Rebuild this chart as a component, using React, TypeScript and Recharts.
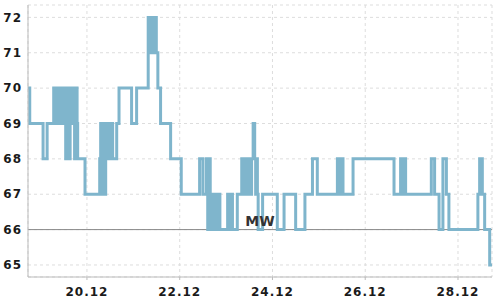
import * as React from "react";
import {
  LineChart,
  Line,
  XAxis,
  YAxis,
  CartesianGrid,
  ReferenceLine,
} from "recharts";

// hours since 18.12 00:00, value holds until the next point
const hours = [
  17.5, 18.4, 25.3, 27.4, 30.8, 31.8, 32.3, 33.4, 33.9, 34.8, 35.3, 36.6, 37.0,
  37.8, 38.0, 39.1, 39.3, 40.1, 40.6, 41.6, 42.2, 42.9, 43.2, 47.0, 54.6, 55.1,
  55.6, 56.1, 56.6, 57.2, 57.7, 58.2, 58.7, 59.2, 59.8, 60.3, 60.8, 61.3, 63.4,
  64.6, 71.1, 73.7, 79.7, 80.2, 80.7, 81.2, 81.7, 82.3, 82.8, 83.9, 84.7, 86.1,
  91.3, 96.8, 106.3, 108.0, 109.8, 110.5, 111.2, 111.8, 112.3, 112.9, 113.3,
  113.8, 114.4, 114.9, 115.4, 115.9, 116.4, 116.8, 120.8, 121.9, 122.4, 123.3,
  125.8, 128.1, 128.6, 129.1, 129.6, 130.1, 130.7, 131.2, 131.7, 132.2, 132.7,
  133.2, 134.0, 134.8, 135.3, 135.8, 136.2, 136.6, 138.9, 146.5, 150.0, 156.0,
  160.8, 164.7, 167.2, 177.6, 178.3, 178.8, 179.6, 180.1, 180.5, 185.7, 206.9,
  210.3, 211.4, 211.9, 212.9, 226.2, 227.9, 230.2, 232.2, 234.0, 235.3, 250.3,
  251.2, 252.6, 253.8, 256.4, 257.6,
];

const values = [
  70, 69, 68, 69, 70, 69, 70, 69, 70, 69, 70, 69, 68,
  69, 70, 68, 70, 69, 70, 68, 70, 69, 68, 67, 68, 69,
  67, 69, 68, 67, 69, 68, 69, 68, 69, 68, 69, 68, 69,
  70, 69, 70, 72, 71, 72, 71, 72, 71, 72, 71, 70, 69,
  68, 67, 68, 67, 68, 66, 68, 66, 67, 66, 67,
  66, 67, 66, 67, 66, 67, 66, 67, 66, 67, 66,
  67, 68, 67, 68, 67, 68, 67, 68, 67, 68, 67,
  68, 69, 68, 67, 68, 67, 66, 67, 66, 67, 66,
  67, 68, 67, 68, 67, 68, 67, 68, 67, 68, 67,
  68, 67, 68, 67, 68, 67, 66, 68, 67, 66, 67,
  68, 67, 66, 65, 65,
];

const xTicks = [48, 96, 144, 192, 240];
const xTickLabels = ["20.12", "22.12", "24.12", "26.12", "28.12"];
const yTicks = [65, 66, 67, 68, 69, 70, 71, 72];
const meanValue = 66;
const meanLabel = "MW";

const data = hours.map((t, i) => ({ t, v: values[i] }));

const tickStyle = {
  fill: "#1a1a1a",
  fontSize: 12,
  fontWeight: 700,
  letterSpacing: 1,
  fontFamily: "DejaVu Sans",
};

export default function App() {
  return (
    <div style={{ position: "absolute", left: 0, top: 0, width: 500, height: 300 }}>
      <LineChart
        width={500}
        height={300}
        data={data}
        margin={{ top: 5, right: 8, left: 0, bottom: 0 }}
      >
        <CartesianGrid stroke="#dddddd" strokeDasharray="3 3" />
        <XAxis
          dataKey="t"
          type="number"
          domain={[17.5, 257.6]}
          ticks={xTicks}
          tickFormatter={(t) => xTickLabels[xTicks.indexOf(t)] ?? ""}
          height={23}
          stroke="#bbbbbb"
          tickSize={3}
          tickMargin={7}
          tick={tickStyle}
        />
        <YAxis
          type="number"
          domain={[64.66, 72.35]}
          ticks={yTicks}
          width={28}
          stroke="#bbbbbb"
          tickLine={false}
          tickSize={3}
          tickMargin={3}
          tick={tickStyle}
        />
        <ReferenceLine
          y={meanValue}
          stroke="#888888"
          strokeWidth={1}
          label={{
            value: meanLabel,
            position: "top",
            offset: 4,
            fill: "#333333",
            fontSize: 14,
            fontWeight: 700,
            fontFamily: "DejaVu Sans",
          }}
        />
        <Line
          type="stepAfter"
          dataKey="v"
          stroke="#7fb5cc"
          strokeWidth={3}
          dot={false}
          isAnimationActive={false}
        />
      </LineChart>
    </div>
  );
}
